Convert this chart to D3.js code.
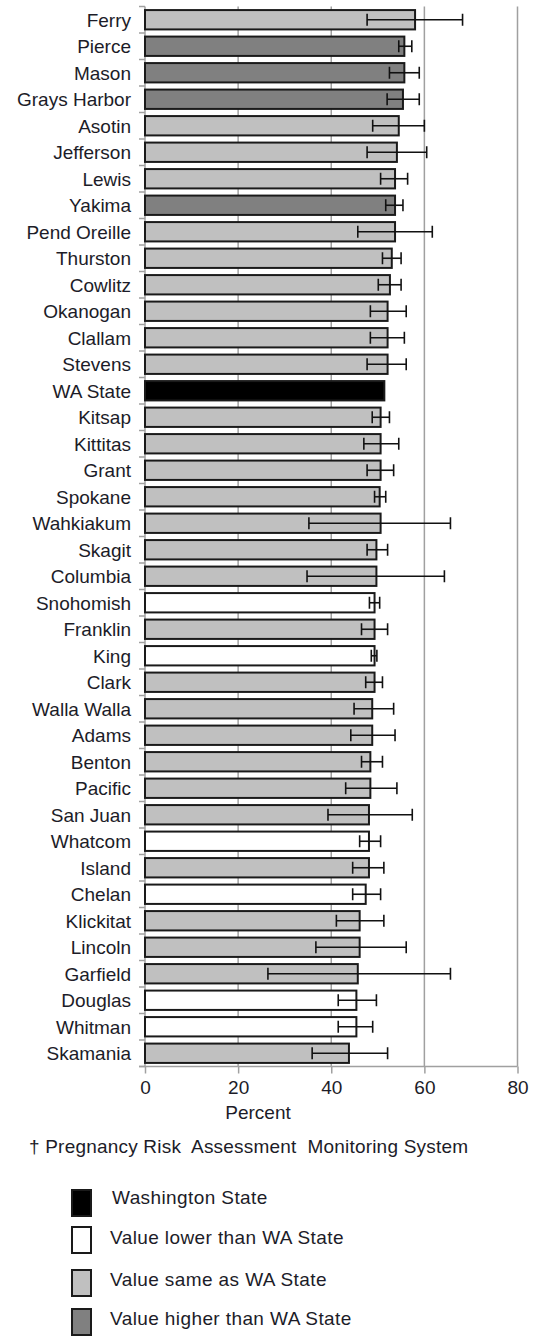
<!DOCTYPE html>
<html>
<head>
<meta charset="utf-8">
<script src="https://cdn.jsdelivr.net/npm/d3@7"></script>
<style>
  html, body { margin: 0; padding: 0; background: #fff; }
  svg { display: block; }
  text { font-family: "Liberation Sans", Arial, sans-serif; fill: #1c1c28; }
</style>
</head>
<body>
<svg id="chart" width="535" height="1337"></svg>
<script>
const counties = ["Ferry","Pierce","Mason","Grays Harbor","Asotin","Jefferson","Lewis","Yakima","Pend Oreille","Thurston","Cowlitz","Okanogan","Clallam","Stevens","WA State","Kitsap","Kittitas","Grant","Spokane","Wahkiakum","Skagit","Columbia","Snohomish","Franklin","King","Clark","Walla Walla","Adams","Benton","Pacific","San Juan","Whatcom","Island","Chelan","Klickitat","Lincoln","Garfield","Douglas","Whitman","Skamania"];
const values = [58.0,55.7,55.7,55.4,54.5,54.1,53.7,53.7,53.7,53.0,52.6,52.1,52.1,52.1,51.4,50.6,50.6,50.6,50.4,50.6,49.7,49.7,49.3,49.3,49.3,49.3,48.8,48.8,48.4,48.4,48.1,48.1,48.1,47.4,46.1,46.1,45.7,45.4,45.4,43.8];
const lower = [47.7,54.5,52.5,52.0,48.9,47.7,50.6,51.7,45.7,51.0,50.1,48.4,48.4,47.7,null,48.8,47.0,47.7,49.3,35.2,47.7,34.8,48.2,46.5,48.6,47.4,44.9,44.2,46.5,43.1,39.3,46.1,44.6,44.6,41.1,36.7,26.4,41.5,41.5,35.9];
const upper = [68.2,57.3,58.9,58.9,60.0,60.5,56.4,55.4,61.7,55.0,55.0,56.1,55.7,56.1,null,52.5,54.5,53.4,51.7,65.6,52.1,64.3,50.4,52.1,49.8,51.0,53.4,53.7,51.0,54.1,57.4,50.6,51.3,50.6,51.3,56.1,65.6,49.7,48.9,52.1];
const status = ["same","higher","higher","higher","same","same","same","higher","same","same","same","same","same","same","state","same","same","same","same","same","same","same","lower","same","lower","same","same","same","same","same","same","lower","same","lower","same","same","same","lower","lower","same"];
const xTicks = [0,20,40,60,80];
const xTitle = "Percent";
const footnote = "\u2020 Pregnancy Risk  Assessment  Monitoring System";
const legendKeys = ["state","lower","same","higher"];
const legendLabels = ["Washington State","Value lower than WA State","Value same as WA State","Value higher than WA State"];

const fills = {state:"#000000", lower:"#ffffff", same:"#c0c0c0", higher:"#808080"};
const rows = counties.map((c,i)=>({name:c, v:values[i], lo:lower[i], hi:upper[i], s:status[i]}));

const svg = d3.select("#chart");
const pLeft = 145, pRight = 517.5, pTop = 6.5, pBottom = 1066.5;
const x = d3.scaleLinear().domain([0,80]).range([pLeft,pRight]);
const y = d3.scaleBand().domain(counties).range([pTop,pBottom]).paddingInner(0.27).paddingOuter(0.135);
const gridColor = "#a0a0a0";

// gridlines
svg.append("g").selectAll("line").data(xTicks.slice(1)).join("line")
  .attr("x1", d=>x(d)).attr("x2", d=>x(d)).attr("y1", pTop).attr("y2", pBottom)
  .attr("stroke", gridColor).attr("stroke-width", 1.5);

// x axis
const xAxis = svg.append("g").attr("transform",`translate(0,${pBottom})`)
  .call(d3.axisBottom(x).tickValues(xTicks).tickSize(7).tickPadding(7).tickFormat(d3.format("d")));
xAxis.select(".domain").attr("stroke", gridColor).attr("stroke-width",1.5).attr("d", `M${pLeft-6},0H${pRight}`);
xAxis.selectAll(".tick line").attr("stroke", gridColor).attr("stroke-width",1.5);
xAxis.selectAll(".tick text").attr("font-size","19px").attr("fill","#1c1c28").attr("font-family","Liberation Sans, Arial, sans-serif");

// y axis line + ticks at band boundaries
svg.append("line").attr("x1",pLeft).attr("x2",pLeft).attr("y1",pTop).attr("y2",pBottom)
  .attr("stroke",gridColor).attr("stroke-width",1.5);
const bounds = d3.range(counties.length+1).map(i=>pTop + i*(pBottom-pTop)/counties.length);
svg.append("g").selectAll("line").data(bounds).join("line")
  .attr("x1", pLeft-6).attr("x2", pLeft).attr("y1", d=>d).attr("y2", d=>d)
  .attr("stroke", gridColor).attr("stroke-width",1.5);

// bars
svg.append("g").selectAll("rect").data(rows).join("rect")
  .attr("x", x(0)).attr("y", d=>y(d.name))
  .attr("width", d=>x(d.v)-x(0)).attr("height", y.bandwidth())
  .attr("fill", d=>fills[d.s]).attr("stroke", "#1a1a1a").attr("stroke-width", 2);

// error bars
const eb = svg.append("g").selectAll("g").data(rows.filter(d=>d.lo!=null)).join("g")
  .attr("stroke","#111").attr("stroke-width",1.6);
const capH = 12;
eb.append("line").attr("x1",d=>x(d.lo)).attr("x2",d=>x(d.hi))
  .attr("y1",d=>y(d.name)+y.bandwidth()/2).attr("y2",d=>y(d.name)+y.bandwidth()/2);
eb.append("line").attr("x1",d=>x(d.lo)).attr("x2",d=>x(d.lo))
  .attr("y1",d=>y(d.name)+y.bandwidth()/2-capH/2).attr("y2",d=>y(d.name)+y.bandwidth()/2+capH/2);
eb.append("line").attr("x1",d=>x(d.hi)).attr("x2",d=>x(d.hi))
  .attr("y1",d=>y(d.name)+y.bandwidth()/2-capH/2).attr("y2",d=>y(d.name)+y.bandwidth()/2+capH/2);

// category labels
svg.append("g").selectAll("text").data(rows).join("text")
  .attr("x", 131).attr("y", d=>y(d.name)+y.bandwidth()/2).attr("dy","0.36em")
  .attr("text-anchor","end").attr("font-size","19px").text(d=>d.name);

// x title
svg.append("text").attr("x",258).attr("y",1119).attr("text-anchor","middle")
  .attr("font-size","19px").text(xTitle);

// footnote
svg.append("text").attr("x",29).attr("y",1153).attr("font-size","19px")
  .attr("letter-spacing","0.2px").style("white-space","pre").text(footnote);

// legend
const legendY = [1190,1227,1270,1309];
const lg = svg.append("g").selectAll("g").data(legendKeys).join("g")
  .attr("transform",(d,i)=>`translate(0,${legendY[i]})`);
lg.append("rect").attr("x",72).attr("y",0).attr("width",19).attr("height",26)
  .attr("fill",d=>fills[d]).attr("stroke","#1a1a1a").attr("stroke-width",2);
lg.append("text").attr("x",(d,i)=>i===0?112:110).attr("y",(d,i)=>[7,10,9,9][i]).attr("dy","0.36em")
  .attr("font-size","19px").attr("letter-spacing","0.4px").text((d,i)=>legendLabels[i]);
</script>
</body>
</html>
